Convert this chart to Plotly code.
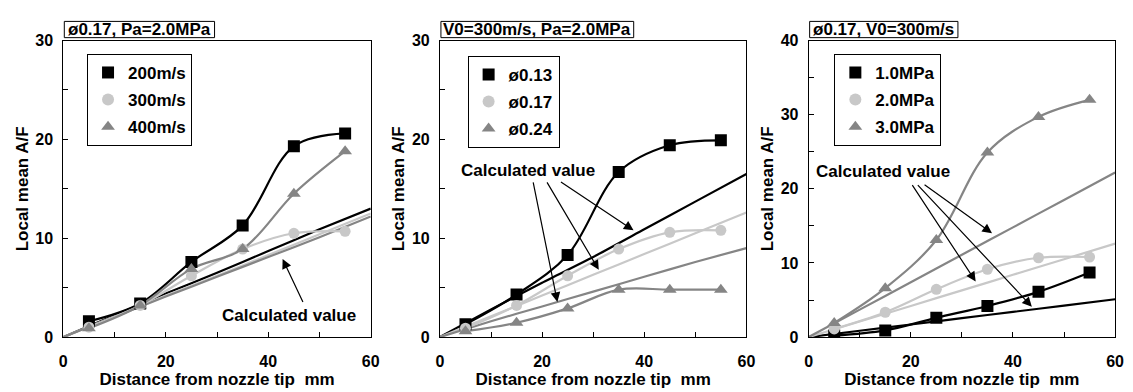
import plotly.graph_objects as go

W, H = 1133, 392

# ---------------- data ----------------
x_meas = [5, 15, 25, 35, 45, 55]
x_calc = [0, 10, 20, 30, 40, 50, 60]

# Panel 1: phi0.17, Pa=2.0MPa
p1_names = ["200m/s", "300m/s", "400m/s"]
p1_200 = [1.6, 3.4, 7.6, 11.3, 19.3, 20.6]
p1_300 = [1.0, 3.2, 6.2, 8.9, 10.5, 10.7]
p1_400 = [0.9, 3.2, 6.9, 8.9, 14.5, 18.8]
p1_calc_200 = [0, 2.2, 4.4, 6.5, 8.7, 10.9, 13.0]
p1_calc_300 = [0, 2.1, 4.2, 6.2, 8.3, 10.4, 12.5]
p1_calc_400 = [0, 2.05, 4.1, 6.1, 8.1, 10.1, 12.2]

# Panel 2: V0=300m/s, Pa=2.0MPa
p2_names = ["ø0.13", "ø0.17", "ø0.24"]
p2_013 = [1.3, 4.3, 8.3, 16.7, 19.4, 19.9]
p2_017 = [0.9, 3.2, 6.2, 8.9, 10.6, 10.8]
p2_024 = [0.6, 1.45, 2.9, 4.8, 4.8, 4.8]
p2_calc_013 = [0, 2.8, 5.5, 8.1, 10.9, 13.7, 16.5]
p2_calc_017 = [0, 2.1, 4.2, 6.3, 8.4, 10.5, 12.6]
p2_calc_024 = [0, 1.6, 3.1, 4.6, 6.1, 7.6, 9.0]

# Panel 3: phi0.17, V0=300m/s
p3_names = ["1.0MPa", "2.0MPa", "3.0MPa"]
p3_10 = [0.2, 0.9, 2.6, 4.2, 6.1, 8.7]
p3_20 = [1.1, 3.35, 6.45, 9.15, 10.7, 10.8]
p3_30 = [1.9, 6.6, 13.1, 24.9, 29.7, 32.0]
p3_calc_10 = [0, 0.85, 1.7, 2.55, 3.4, 4.25, 5.1]
p3_calc_20 = [0, 2.1, 4.2, 6.3, 8.4, 10.5, 12.6]
p3_calc_30 = [0, 3.7, 7.4, 11.1, 14.8, 18.5, 22.2]

titles = ["ø0.17, Pa=2.0MPa", "V0=300m/s, Pa=2.0MPa", "ø0.17, V0=300m/s"]
y_max = [30, 30, 40]
x_label = "Distance from nozzle tip  mm"
y_label = "Local mean A/F"
calc_text = "Calculated value"

# ---------------- style ----------------
FONT = "Liberation Sans, Arial, sans-serif"
C_BLACK = "#000000"
C_LIGHT = "#c8c8c8"
C_GRAY = "#858585"
colors = [C_BLACK, C_LIGHT, C_GRAY]
symbols = ["square", "circle", "triangle-up"]
msizes = [12, 11, 12]

px_x = [(60, 371), (441, 751), (814, 1124)]
px_top, px_bot = 34, 344
title_box_right = [213, 637, 965]
title_box_top, title_box_bot = 14, 31

fig = go.Figure()

panels = [
    (p1_names, [p1_200, p1_300, p1_400], [p1_calc_200, p1_calc_300, p1_calc_400]),
    (p2_names, [p2_013, p2_017, p2_024], [p2_calc_013, p2_calc_017, p2_calc_024]),
    (p3_names, [p3_10, p3_20, p3_30], [p3_calc_10, p3_calc_20, p3_calc_30]),
]

for i, (names, meas, calc) in enumerate(panels):
    xa = "x" if i == 0 else f"x{i+1}"
    ya = "y" if i == 0 else f"y{i+1}"
    leg = "legend" if i == 0 else f"legend{i+1}"
    for k in range(3):
        fig.add_trace(go.Scatter(
            x=x_calc, y=calc[k], mode="lines", xaxis=xa, yaxis=ya,
            line=dict(color=colors[k], width=2.2, shape="spline", smoothing=0.6),
            showlegend=False, hoverinfo="skip"))
    for k in range(3):
        fig.add_trace(go.Scatter(
            x=x_meas, y=meas[k], mode="lines", xaxis=xa, yaxis=ya,
            line=dict(color=colors[k], width=2.2, shape="spline", smoothing=1.0),
            showlegend=False, hoverinfo="skip"))
    for k in range(3):
        fig.add_trace(go.Scatter(
            x=x_meas, y=meas[k], mode="markers", xaxis=xa, yaxis=ya,
            name=names[k], legend=leg, legendgroup=f"g{i}{k}",
            marker=dict(symbol=symbols[k], color=colors[k], size=msizes[k],
                        line=dict(width=0))))

layout = dict(
    width=W, height=H,
    margin=dict(l=0, r=0, t=0, b=0),
    paper_bgcolor="white", plot_bgcolor="white",
    font=dict(family=FONT, color="black", size=17, weight="bold"),
    annotations=[], shapes=[], showlegend=True,
)

ydom = [1 - px_bot / H, 1 - px_top / H]
leg_px = [(84, 48), (469, 50), (840, 48)]
for i in range(3):
    sfx = "" if i == 0 else str(i + 1)
    xdom = [px_x[i][0] / W, px_x[i][1] / W]
    layout["xaxis" + sfx] = dict(
        domain=xdom, range=[0, 60], anchor="y" + sfx,
        tickvals=[0, 10, 20, 30, 40, 50, 60],
        ticktext=["0", "", "20", "", "40", "", "60"],
        ticks="inside", ticklen=5, tickwidth=1, tickcolor="black",
        showline=True, linecolor="black", linewidth=1, mirror=True,
        showgrid=False, zeroline=False, ticklabelstandoff=10,
        tickfont=dict(size=16, family=FONT, weight="bold"),
        title=dict(text=x_label, font=dict(size=17, family=FONT, weight="bold"), standoff=2),
    )
    ym = y_max[i]
    tv = list(range(0, ym + 1, 5))
    layout["yaxis" + sfx] = dict(
        domain=ydom, range=[0, ym], anchor="x" + sfx,
        tickvals=tv, ticktext=[str(v) if v % 10 == 0 else "" for v in tv],
        ticks="inside", ticklen=5, tickwidth=1, tickcolor="black",
        showline=True, linecolor="black", linewidth=1, mirror=True,
        showgrid=False, zeroline=False, ticklabelstandoff=6,
        tickfont=dict(size=16, family=FONT, weight="bold"),
        title=dict(text=y_label, font=dict(size=17, family=FONT, weight="bold"), standoff=2),
    )
    lx, ly = leg_px[i]
    layout["legend" + sfx] = dict(
        x=lx / W, y=1 - ly / H, xref="paper", yref="paper",
        xanchor="left", yanchor="top",
        bordercolor="black", borderwidth=1, bgcolor="white",
        font=dict(size=17, family=FONT, weight="bold"),
        tracegroupgap=2, itemsizing="constant", itemwidth=30,
    )
    x0 = px_x[i][0] + 1
    x1 = title_box_right[i]
    layout["shapes"].append(dict(
        type="rect", xref="paper", yref="paper",
        x0=x0 / W, x1=x1 / W, y0=1 - title_box_bot / H, y1=1 - title_box_top / H,
        line=dict(color="black", width=1), fillcolor="white"))
    layout["annotations"].append(dict(
        text=titles[i], xref="paper", yref="paper",
        x=(x0 + x1) / 2 / W, y=1 - (title_box_top + title_box_bot) / 2 / H,
        xanchor="center", yanchor="middle", showarrow=False,
        font=dict(size=17, family=FONT, weight="bold")))

calc_labels = [
    (0, 44.0, 2.2, [((46.9, 3.4), (42.8, 7.9))]),
    (1, 17.2, 16.9, [((18.2, 15.8), (23.0, 3.55)), ((20.8, 15.8), (31.1, 6.8)),
                     ((23.4, 15.8), (37.9, 10.8))]),
    (2, 14.6, 22.3, [((20.1, 20.7), (32.7, 7.5)), ((21.1, 20.7), (43.7, 4.1)),
                     ((22.4, 20.7), (35.9, 14.0))]),
]
for i, tx, ty, arrows in calc_labels:
    xa = "x" if i == 0 else f"x{i+1}"
    ya = "y" if i == 0 else f"y{i+1}"
    layout["annotations"].append(dict(
        text=calc_text, x=tx, y=ty, xref=xa, yref=ya, showarrow=False,
        font=dict(size=17, family=FONT, weight="bold")))
    for (t, h) in arrows:
        layout["annotations"].append(dict(
            x=h[0], y=h[1], ax=t[0], ay=t[1], xref=xa, yref=ya, axref=xa, ayref=ya,
            text="", showarrow=True, arrowhead=2, arrowsize=1.6, arrowwidth=1.2,
            arrowcolor="black"))

fig.update_layout(**layout)
fig.write_html("out.html")
